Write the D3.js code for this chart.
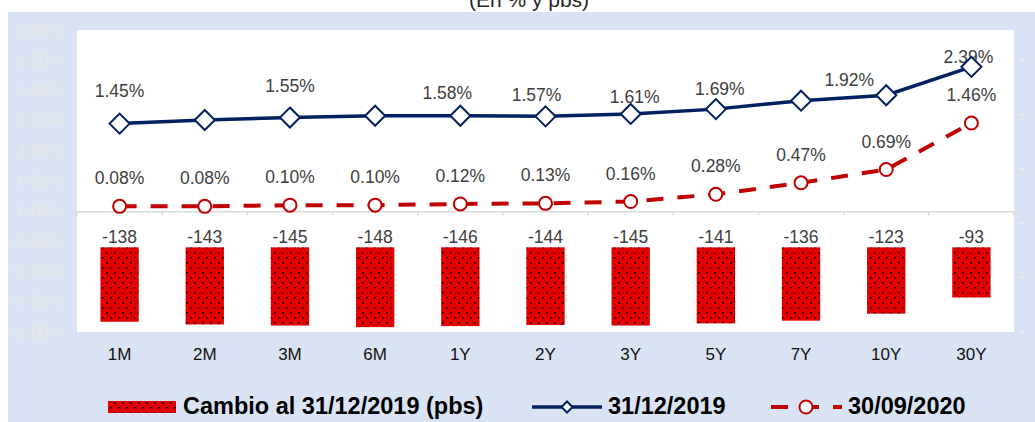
<!DOCTYPE html>
<html lang="es">
<head>
<meta charset="UTF-8">
<title>Curva de rendimientos</title>
<style>
  body { margin: 0; background: #ffffff; }
  svg { display: block; font-family: "Liberation Sans", Arial, sans-serif; }
</style>
</head>
<body>
<div id="chart"></div>
<script src="https://d3js.org/d3.v7.min.js"></script>
<script>
// --- data ---
const categories = ["1M", "2M", "3M", "6M", "1Y", "2Y", "3Y", "5Y", "7Y", "10Y", "30Y"];
const rates2019 = [1.45, 1.51, 1.55, 1.58, 1.58, 1.57, 1.61, 1.69, 1.83, 1.92, 2.39];
const rates2020 = [0.08, 0.08, 0.10, 0.10, 0.12, 0.13, 0.16, 0.28, 0.47, 0.69, 1.46];
const changeBps = [-138, -143, -145, -148, -146, -144, -145, -141, -136, -123, -93];
const labels2019 = ["1.45%", null, "1.55%", null, "1.58%", "1.57%", "1.61%", "1.69%", null, "1.92%", "2.39%"];
const yTickValues = [3, 2.5, 2, 1.5, 1, 0.5, 0, -0.5, -1, -1.5, -2];

// hand-placed label offsets of the 31/12/2019 series (dx, dy from the point)
const nudge2019 = [[0, -27], null, [0, -26], null, [-13, -17], [-9, -15], [4, -11], [4, -14], null, [-37, -9], [-3, -4]];

const W = 1035, H = 422;
const plot = {left: 77, right: 1014, top: 30, bottom: 332};
const navy = "#002060", red = "#c00000", barRed = "#e30000";

const svg = d3.select("#chart").append("svg")
    .attr("width", W).attr("height", H);

// bar fill: red with black dots
const pat = svg.append("defs").append("pattern")
    .attr("id", "dots").attr("patternUnits", "userSpaceOnUse")
    .attr("width", 8).attr("height", 10);
pat.append("rect").attr("width", 8).attr("height", 10).attr("fill", barRed);
pat.append("rect").attr("x", 2).attr("y", 2).attr("width", 1.6).attr("height", 1.6).attr("fill", "#000");
pat.append("rect").attr("x", 6).attr("y", 7).attr("width", 1.6).attr("height", 1.6).attr("fill", "#000");

// title, cut off by the chart frame as in the source
svg.append("text")
    .attr("x", 529).attr("y", 7)
    .attr("text-anchor", "middle")
    .attr("font-size", 21).attr("fill", "#262626")
    .text("(En % y pbs)");

// chart frame and plot area
svg.append("rect").attr("x", 8).attr("y", 12).attr("width", W - 8).attr("height", H - 12).attr("fill", "#dae3f3");
svg.append("rect").attr("x", plot.left).attr("y", plot.top)
    .attr("width", plot.right - plot.left).attr("height", plot.bottom - plot.top)
    .attr("fill", "#ffffff");

// scales
const x = d3.scaleBand().domain(categories).range([plot.left, plot.right]);
const y = d3.scaleLinear().domain([-2, 3]).range([plot.bottom, plot.top]);
const y2 = d3.scaleLinear().domain([-157, 403]).range([plot.bottom, plot.top]);
const cx = d => x(d) + x.bandwidth() / 2;

// left axis (very faint labels)
const yAxis = svg.append("g")
    .attr("transform", `translate(${plot.left - 11},0)`)
    .call(d3.axisLeft(y).tickValues(yTickValues).tickSize(0).tickFormat(d => d3.format(".2f")(d) + "%"));
yAxis.select(".domain").remove();
yAxis.selectAll("text").attr("font-size", 16).attr("fill", "#e6e6e6").attr("font-family", "Liberation Sans, Arial, sans-serif");

// right axis: only faint dashes visible
const yRight = svg.append("g").attr("transform", `translate(${plot.right + 5},0)`)
    .call(d3.axisRight(d3.scaleLinear().domain([0, 5]).range([331, 60])).ticks(5).tickSize(6).tickFormat(""));
yRight.select(".domain").remove();
yRight.selectAll("line").attr("stroke", "#eef2fa").attr("stroke-width", 1);

// x axis line at 0%
const xAxis = svg.append("g")
    .attr("transform", `translate(0,${y(0)})`)
    .call(d3.axisBottom(x).tickSize(0).tickFormat(""));
xAxis.select(".domain").attr("stroke", "#d9d9d9").attr("stroke-width", 1.5);
xAxis.selectAll(".tick").remove();
xAxis.selectAll("line.sep")
    .data(d3.range(categories.length + 1))
    .join("line").attr("class", "sep")
    .attr("x1", i => plot.left + i * x.step()).attr("x2", i => plot.left + i * x.step())
    .attr("y1", 0).attr("y2", 4)
    .attr("stroke", "#d9d9d9").attr("stroke-width", 1.5);

// category labels below the plot area
svg.append("g").selectAll("text")
    .data(categories).join("text")
    .attr("x", d => cx(d)).attr("y", 360)
    .attr("text-anchor", "middle")
    .attr("font-size", 17).attr("fill", "#111")
    .text(d => d);

// bars on the secondary axis (pbs)
const barW = x.bandwidth() * 0.45;
svg.append("g").selectAll("rect")
    .data(changeBps).join("rect")
    .attr("x", (d, i) => cx(categories[i]) - barW / 2)
    .attr("y", y2(0))
    .attr("width", barW)
    .attr("height", d => y2(d) - y2(0))
    .attr("fill", "url(#dots)");

svg.append("g").selectAll("text")
    .data(changeBps).join("text")
    .attr("x", (d, i) => cx(categories[i]))
    .attr("y", y2(0) - 4)
    .attr("text-anchor", "middle")
    .attr("font-size", 17.5).attr("fill", "#404040")
    .text(d => d);

// 30/09/2020 line
const line = d3.line().x((d, i) => cx(categories[i])).y(d => y(d));
svg.append("path")
    .attr("d", line(rates2020))
    .attr("fill", "none").attr("stroke", red).attr("stroke-width", 4)
    .attr("stroke-dasharray", "17,14");

// 31/12/2019 line
svg.append("path")
    .attr("d", line(rates2019))
    .attr("fill", "none").attr("stroke", navy).attr("stroke-width", 3.5);

// data labels (drawn under markers)
svg.append("g").selectAll("text")
    .data(rates2020).join("text")
    .attr("x", (d, i) => cx(categories[i]))
    .attr("y", d => y(d) - 22)
    .attr("text-anchor", "middle")
    .attr("font-size", 17.5).attr("fill", "#404040")
    .text(d => d3.format(".2f")(d) + "%");

svg.append("g").selectAll("text")
    .data(rates2019.map((v, i) => ({v, i})).filter(d => labels2019[d.i]))
    .join("text")
    .attr("x", d => cx(categories[d.i]) + nudge2019[d.i][0])
    .attr("y", d => y(d.v) + nudge2019[d.i][1])
    .attr("text-anchor", "middle")
    .attr("font-size", 17.5).attr("fill", "#404040")
    .text(d => labels2019[d.i]);

// markers
svg.append("g").selectAll("circle")
    .data(rates2020).join("circle")
    .attr("cx", (d, i) => cx(categories[i])).attr("cy", d => y(d))
    .attr("r", 6.5)
    .attr("fill", "#fff").attr("stroke", red).attr("stroke-width", 2);

const diamond = r => `M0,${-r}L${r},0L0,${r}L${-r},0Z`;
svg.append("g").selectAll("path")
    .data(rates2019).join("path")
    .attr("transform", (d, i) => `translate(${cx(categories[i])},${y(d)})`)
    .attr("d", diamond(10))
    .attr("fill", "#fff").attr("stroke", navy).attr("stroke-width", 2);

// legend
const lg = svg.append("g").attr("font-size", 23.5).attr("font-weight", "bold").attr("fill", "#000");
lg.append("rect").attr("x", 108).attr("y", 401).attr("width", 68).attr("height", 12).attr("fill", "url(#dots)");
lg.append("text").attr("x", 183).attr("y", 414).text("Cambio al 31/12/2019 (pbs)");

lg.append("line").attr("x1", 532).attr("x2", 602).attr("y1", 407).attr("y2", 407)
    .attr("stroke", navy).attr("stroke-width", 3.5);
lg.append("path").attr("transform", "translate(567,407)").attr("d", diamond(5.5))
    .attr("fill", "#fff").attr("stroke", navy).attr("stroke-width", 2);
lg.append("text").attr("x", 608).attr("y", 414).text("31/12/2019");

lg.append("line").attr("x1", 771).attr("x2", 842).attr("y1", 407).attr("y2", 407)
    .attr("stroke", red).attr("stroke-width", 4).attr("stroke-dasharray", "17,14");
lg.append("circle").attr("cx", 806).attr("cy", 407).attr("r", 6.5)
    .attr("fill", "#fff").attr("stroke", red).attr("stroke-width", 2);
lg.append("text").attr("x", 848).attr("y", 414).text("30/09/2020");
</script>
</body>
</html>
